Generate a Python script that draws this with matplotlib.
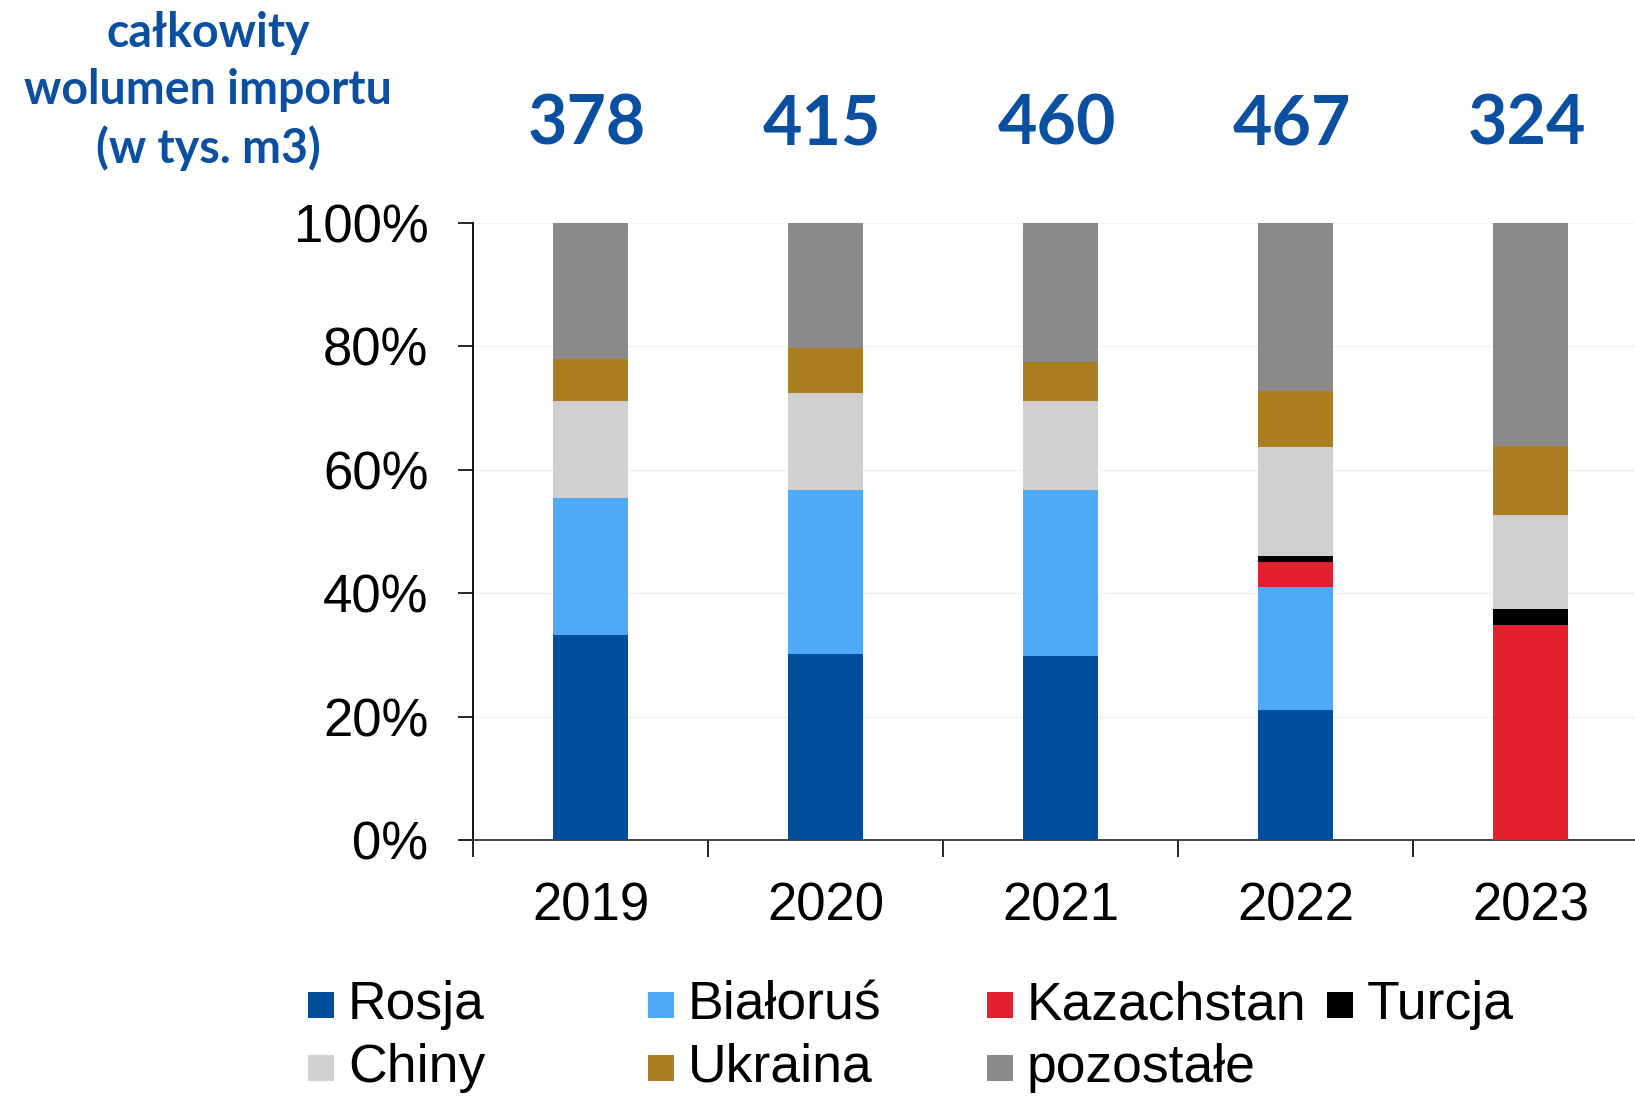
import matplotlib
matplotlib.use('Agg')
from matplotlib import pyplot as plt
from matplotlib.patches import Rectangle
import matplotlib.transforms as mtransforms
import numpy as np

plt.rcParams['font.family'] = ['Liberation Sans', 'DejaVu Sans']

# Dane: udzial krajow w imporcie (%)
years = ['2019', '2020', '2021', '2022', '2023']
totals = [378, 415, 460, 467, 324]
rosja = [33.2, 30.2, 29.9, 21.1, 0.0]
bialorus = [22.3, 26.5, 26.9, 19.9, 0.0]
kazachstan = [0.0, 0.0, 0.0, 4.1, 34.8]
turcja = [0.0, 0.0, 0.0, 1.0, 2.6]
chiny = [15.7, 15.8, 14.3, 17.6, 15.2]
ukraina = [6.7, 7.2, 6.4, 9.1, 11.2]
pozostale = [22.1, 20.3, 22.5, 27.2, 36.2]

series = [
    ('Rosja', rosja, '#004E9C'),
    ('Białoruś', bialorus, '#4EAAF8'),
    ('Kazachstan', kazachstan, '#E3202D'),
    ('Turcja', turcja, '#000000'),
    ('Chiny', chiny, '#D0D0D0'),
    ('Ukraina', ukraina, '#AB7F21'),
    ('pozostałe', pozostale, '#8A8A8A'),
]

W, H = 1635, 1096
fig = plt.figure(figsize=(W / 100, H / 100), dpi=100)
ax = fig.add_axes([473 / W, 1 - 840 / H, (1648 - 473) / W, (840 - 223) / H])

x = np.arange(len(years))
bottom = np.zeros(len(years))
for name, vals, col in series:
    vals = np.array(vals)
    ax.bar(x, vals, width=0.315, bottom=bottom, color=col, edgecolor='none', zorder=3)
    bottom += vals

ax.set_xlim(-0.5, 4.5)
ax.set_ylim(0, 100)
ax.set_yticks(np.arange(0, 101, 20))
ax.set_yticklabels([f'{v}%' for v in range(0, 101, 20)])
ax.set_xticks(x)
ax.set_xticklabels(years)
ax.set_xticks(np.arange(-0.5, 4.6, 1), minor=True)
ax.tick_params(axis='x', which='major', length=0, pad=30, labelsize=38)
ax.tick_params(axis='x', which='minor', length=12, width=1.2, direction='out')
ax.tick_params(axis='y', length=11, width=1.2, pad=21, labelsize=38)
ax.yaxis.grid(True, color='#F2F2F2', linewidth=1, zorder=0)

for s in ['top', 'right']:
    ax.spines[s].set_visible(False)
ax.spines['left'].set_linewidth(1.3)
ax.spines['bottom'].set_linewidth(1.3)
ax.spines['bottom'].set_color('#333333')

blue = '#0A4FA0'
# wartosci calkowite nad slupkami (lekko przesuniete w lewo jak w oryginale)
trans = mtransforms.blended_transform_factory(ax.transData, fig.transFigure)
trans = trans + mtransforms.ScaledTranslation(-4 / 100, 0, fig.dpi_scale_trans)
for i, t in enumerate(totals):
    ax.text(x[i], 1 - 125 / H, str(t), transform=trans,
            ha='center', va='center', fontsize=49, fontweight='bold', color=blue,
            family=['Lato', 'DejaVu Sans'])

fig.text(208 / W, 1 - 91 / H, 'całkowity\nwolumen importu\n(w tys. m3)', ha='center', va='center',
         fontsize=33.5, fontweight='bold', color=blue, linespacing=1.35,
         family=['Lato', 'DejaVu Sans'])

# legenda
col_x = [308, 648, 987, 1327]
row_y = [1005, 1068]
order = [[0, 1, 2, 3], [4, 5, 6]]
sq = 26
for r, idxs in enumerate(order):
    for c, idx in enumerate(idxs):
        name, _, col = series[idx]
        fig.patches.append(Rectangle((col_x[c] / W, (H - row_y[r] - sq / 2) / H), sq / W, sq / H,
                                     transform=fig.transFigure, facecolor=col, edgecolor='none'))
        fig.text((col_x[c] + 40) / W, 1 - row_y[r] / H, name, ha='left', va='center', fontsize=38.5)

fig.savefig('out.png', dpi=100)
